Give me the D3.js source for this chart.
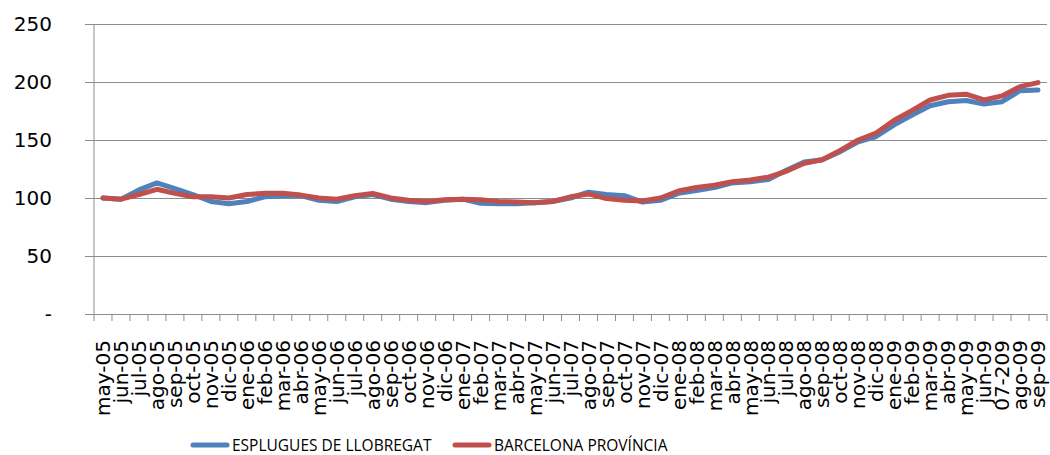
<!DOCTYPE html>
<html>
<head>
<meta charset="utf-8">
<script src="https://cdn.jsdelivr.net/npm/d3@7"></script>
<style>
  body { margin: 0; background: #fff; }
  .chart text { fill: #000; }
</style>
</head>
<body>
<div id="chart" class="chart"></div>
<script>
// months on the x axis (as printed in the original)
var months = ['may-05','jun-05','jul-05','ago-05','sep-05','oct-05','nov-05','dic-05',
  'ene-06','feb-06','mar-06','abr-06','may-06','jun-06','jul-06','ago-06','sep-06','oct-06','nov-06','dic-06',
  'ene-07','feb-07','mar-07','abr-07','may-07','jun-07','jul-07','ago-07','sep-07','oct-07','nov-07','dic-07',
  'ene-08','feb-08','mar-08','abr-08','may-08','jun-08','jul-08','ago-08','sep-08','oct-08','nov-08','dic-08',
  'ene-09','feb-09','mar-09','abr-09','may-09','jun-09','07-209','ago-09','sep-09'];

var esplugues = [100, 99, 107, 113, 108, 103, 97, 95,
  97, 101, 102, 102, 98, 97, 101, 103, 99, 97, 96, 98,
  99, 95.5, 95, 95, 96, 97, 100, 105, 103, 102, 96.5, 98,
  104, 106.5, 109, 113, 114, 116, 124, 131, 133, 140, 148.5, 153,
  163, 171.5, 179.5, 183, 184, 181, 183, 192.5, 193];

var barcelona = [100, 99, 103, 107.5, 104, 101, 101, 100,
  103, 104, 104, 102.5, 100, 99, 102, 104, 100, 98, 97, 98.5,
  99, 98.5, 97, 96.5, 96, 97, 101, 103.5, 99.5, 98, 97.5, 100,
  106, 109, 111, 114, 115.5, 118, 123, 130, 133, 141, 150, 156,
  167, 175.5, 184.5, 188.5, 189.5, 184.5, 188, 196, 199.5];

var yTicks = [0, 50, 100, 150, 200, 250];

var seriesNames = ['ESPLUGUES DE LLOBREGAT', 'BARCELONA PROVÍNCIA'];
var seriesColors = ['#4f81bd', '#c0504d'];

// margin convention
var m = {t:24, r:3, b:141, l:94};
var outerWidth = 1050, outerHeight = 455;
var w = outerWidth - m.l - m.r,
    h = outerHeight - m.t - m.b;

var svg = d3.select('#chart')
  .append('svg')
  .attr('width', outerWidth)
  .attr('height', outerHeight);

var plot = svg.append('g')
  .attr('transform', 'translate(' + m.l + ',' + m.t + ')');

// scales
var x = d3.scaleBand().domain(months).range([0, w]).padding(0);
var y = d3.scaleLinear().domain([0, 250]).range([h, 0]);

// y axis + gridlines
var axisY = d3.axisLeft(y)
  .tickValues(yTicks)
  .tickSize(-w)
  .tickPadding(42)
  .tickFormat(function(d){ return d === 0 ? '-' : d; });

var gy = plot.append('g').attr('class', 'axis axis-y').call(axisY);
gy.select('.domain').remove();
gy.selectAll('.tick line')
  .attr('x1', -9)
  .attr('stroke', '#8c8c8c');
gy.selectAll('.tick text')
  .style('font-family', 'DejaVu Sans')
  .style('font-size', '20px')
  .attr('fill', '#000');

// vertical axis line
plot.append('line')
  .attr('x1', 0).attr('x2', 0)
  .attr('y1', 0).attr('y2', h)
  .attr('stroke', '#8c8c8c');

// x axis: ticks sit between categories
var edges = months.map(function(d){ return x(d); }).concat([w]);
plot.append('g').attr('class', 'x-ticks')
  .selectAll('line')
  .data(edges)
  .enter()
  .append('line')
  .attr('x1', function(d){ return d; })
  .attr('x2', function(d){ return d; })
  .attr('y1', h)
  .attr('y2', h + 7)
  .attr('stroke', '#8c8c8c');

var axisX = d3.axisBottom(x).tickSize(0).tickSizeOuter(0);
var gx = plot.append('g')
  .attr('class', 'axis axis-x')
  .attr('transform', 'translate(0,' + h + ')')
  .call(axisX);
gx.select('.domain').remove();
gx.selectAll('.tick text')
  .style('font-family', 'DejaVu Sans')
  .style('font-size', '20px')
  .attr('fill', '#000')
  .attr('text-anchor', 'end')
  .attr('transform', 'rotate(-90)')
  .attr('x', -26)
  .attr('y', 0)
  .attr('dy', '0.36em');

// lines
var line = d3.line()
  .x(function(d, i){ return x(months[i]) + x.bandwidth() / 2; })
  .y(function(d){ return y(d); });

[esplugues, barcelona].forEach(function(values, i){
  plot.append('path')
    .datum(values)
    .attr('fill', 'none')
    .attr('stroke', seriesColors[i])
    .attr('stroke-width', 5)
    .attr('stroke-linejoin', 'round')
    .attr('stroke-linecap', 'round')
    .attr('d', line);
});

// legend
var legendX = [193, 455];
var legend = svg.append('g').attr('class', 'legend');
seriesNames.forEach(function(name, i){
  var g = legend.append('g').attr('transform', 'translate(' + legendX[i] + ',445)');
  g.append('line')
    .attr('x1', 0).attr('x2', 34)
    .attr('stroke', seriesColors[i])
    .attr('stroke-width', 5)
    .attr('stroke-linecap', 'round');
  g.append('text')
    .attr('x', 39)
    .attr('y', 6)
    .style('font-family', 'Open Sans')
    .style('font-size', '15.5px')
    .text(name);
});
</script>
</body>
</html>
